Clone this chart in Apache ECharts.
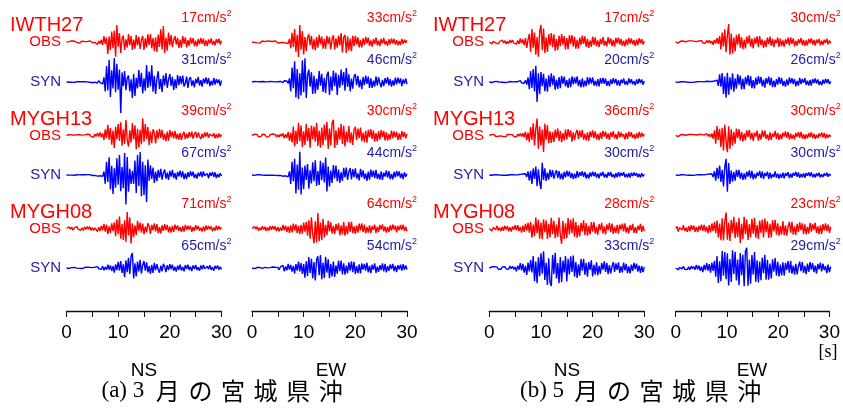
<!DOCTYPE html>
<html>
<head>
<meta charset="utf-8">
<script src="https://cdn.jsdelivr.net/npm/echarts@6/dist/echarts.min.js"></script>
<style>
html,body{margin:0;padding:0;background:#fff}
#chart{width:843px;height:408px}
</style>
</head>
<body>
<div id="chart"></div>
<script>
// Sample interval of every record [s]
const dt = 0.25;
const stations = ['IWTH27', 'MYGH13', 'MYGH08'];
const components = ['NS', 'EW'];
const kinds = ['OBS', 'SYN'];
const eventTags = ['(a) 3', '(b) 5'];
const eventName = '月の宮城県沖';
const timeTicks = [0, 10, 20, 30];
const timeUnit = '[s]';

// Acceleration records [cm/s^2], 0.25 s step, 0-30 s
// ---- (a) March event, NS ----
const a_NS_IWTH27_OBS = [0,-0.5,0.4,-1.0, 1.2,-0.3,0.8,-0.6, -0.4,1.0,-1.2,0.3, 0.9,-0.7,0.5,-1.1, 0.4,-0.9,1.2,-0.2, -0.6,1.1,-0.4,0.8,
 -2.5,1.0,-1.8,2.2, -3.0,6.0,-1.8,4.4, -12,5.5,-8.0,10.4, -6.2,11.5,-14.6,17, -4.8,9.0,-11,3.5, 6.4,-8.0,2.6,-5.5,
 7.8,-3.1,5.9,-8.0, 2.4,-6.6,7.0,-3.3, 5.2,-7.0,1.9,6.1, -8.0,3.7,-5.4,7.6, -2.8,8.0,-6.3,4.0, -9.1,4.6,-10,7.5,
 -5.0,12.8,-7.4,16, -11,4.2,-8.6,9.5, -3.1,7.0,-5.2,2.0, 5.8,-2.5,4.1,-6.0, 2.2,-5.6,6.0,-1.9, 4.7,-5.5,2.0,-3.9,
 4.5,-1.6,3.8,-4.2, 1.4,-4.5,3.0,-2.2, 4.0,-1.8,3.3,-3.9, 1.6,-4.0,2.5,-1.2, 3.5,-2.7,1.1,-3.3, 2.9,-1.0,3.4,-2.4, 1.2];
const a_NS_IWTH27_SYN = [0,0.3,-0.2,0.4, -0.3,0.1,-0.4,0.3, 0.2,-0.4,0.3,-0.1, 0.4,-0.2,0.3,-0.4, 0.1,0.4,-0.3,0.2, -0.7,0.4,-0.2,0.6,
 -1.0,1.5,-0.6,1.2, -2.0,4.6,-9.5,16, -8.4,22,-15,11.6, -6.5,24,-10.3,18.2, -7.8,12.4,-31,9.6, -4.3,11,-8.2,3.9,
 6.5,-9.4,2.8,-16, 7.9,-14,4.1,-6.3, 12,-5.0,9.1,-11.4, 3.6,-8.8,17,-6.0, 10.5,-4.4,16.6,-9.7, 6.2,-12,3.3,10.8,
 -7.1,2.9,-10,6.6, -3.5,9.0,-5.8,2.4, 7.8,-4.0,5.1,-8.0, 2.7,-6.3,7.0,-3.2, 5.9,-2.1,6.5,-4.6, -1.5,5.5,-6.0,2.8,
 4.9,-3.8,1.7,-5.5, 3.2,-1.4,5.0,-3.6, 1.9,-4.7,3.5,-1.3, 4.5,-2.2,3.8,-4.1, 1.0,-3.3,4.0,-2.5, 3.1,-1.2,2.6,-3.9, 1.5];
const a_NS_MYGH13_OBS = [0,-1.2,2.0,-0.6, 1.5,-2.2,0.7,-1.4, 2.1,-0.5,1.6,-1.9, 0.8,-2.2,1.3,-0.9, 2.8,-1.1,2.3,-2.6, 1.2,-4.0,3.1,-1.8,
 5.6,-2.4,7.0,-4.3, 5.0,-10,14,-6.2, 24,-9.5,17,-21, 11,-28,19.5,-8.6, 26,-12.5,30,-23, 14,-19,35,-10,
 -25,11.5,-16,28, -9.2,23,-31,15, -27,12.8,-20,39, -14,26,-8.5,19, -22,9.5,-17.6,14.2, 6.3,-18,11.8,-7.4,
 15,-5.6,12.6,-9.9, 4.2,-13,8.7,-11.5, 12,-3.8,9.5,-6.8, 10.5,-7.7,3.9,-9.3, 6.1,-10,2.8,8.4, -9.0,4.4,-6.5,7.8,
 -3.2,8.5,-7.2,2.9, 8.0,-5.1,6.7,-2.4, -7.5,3.5,-5.8,6.9, -2.6,7.0,-4.9,3.6, 6.5,-1.9,5.2,-6.1, 2.8,-6.0,4.6,-3.3, 2.0];
const a_NS_MYGH13_SYN = [0,0.5,-0.3,0.6, -0.2,0.4,-0.6,0.3, 0.6,-0.5,0.2,-0.6, 0.4,-0.7,0.5,-0.2, 0.8,-0.4,0.9,-0.6, -1.2,0.5,-0.9,1.1,
 -2.5,1.4,-1.8,2.4, -3.0,8.0,-20,30, -16,40,-33,21, -43,15,-29,38, -22,45,-37,18, -30,50,-67,41,
 -38,14,-20,9.5, -20,33,-41,45, -25,52,-48,30, -45,22,-61,35, -13,22,-9.0,17, -18,7.5,-14,11.6,
 -6.0,14,-10.5,4.8, 12.5,-8.3,5.2,-11, 9.4,-3.6,11.5,-7.0, 4.1,-10.5,6.9,-2.9, 10,-5.5,8.2,-9.6, 3.7,-9.0,6.1,-4.2,
 8.5,-2.6,7.4,-6.8, 2.1,-8.0,5.3,-3.0, 7.7,-4.5,8.0,-1.8, -6.2,3.4,-7.5,5.6, -2.0,7.0,-4.4,6.1, -7.0,2.5,-5.3,4.0, -2.2];
const a_NS_MYGH08_OBS = [0,-5.0,7.2,-3.1, 6.4,-7.5,2.6,-6.0, 8.0,-2.9,5.7,-7.8, 3.5,-8.2,6.9,-4.0, 8.7,-3.3,7.9,-9.0, 4.4,-8.6,2.8,9.1,
 -13,6.0,-10.5,12.4, -8.0,20,-14,17, -24,9.5,-19,22, -11,27,-33,40, -25,52,-44,19, -50,36,-58,71,
 -30,47,-65,22, -38,14,-29,33, -9.6,26,-18,21, -25,8.2,-17,23, 10,-23,16,-7.5, 22,-12,19,-20,
 6.3,-21,14,-9.8, 19,-6.5,15.5,-17, 8.4,-18,11,-14.6, 17,-4.9,13,-10, 5.5,-16,9.7,-13.2, 15.5,-7.0,12,-3.9,
 11.5,-15,6.1,-10.4, 14,-4.2,11.2,-9.5, 3.6,-13.5,8.8,-11, 13,-5.3,10.6,-2.7, 9.1,-12.5,4.0,-8.9, 12,-6.6,9.8,-3.2, 5.0];
const a_NS_MYGH08_SYN = [0,1.2,-2.0,0.6, 1.8,-0.9,2.5,-1.4, -0.5,2.2,-1.6,1.0, -2.4,0.8,1.9,-1.1, 3.5,-1.6,2.7,-3.0, 1.8,-5.5,3.9,-2.2,
 6.0,-3.1,4.8,-5.7, 8.2,-10,4.5,-7.9, 14,-6.3,11,-12.8, 8.0,-20,15.5,-9.3, 27,-12,30,-21, 16,-40,33,-18,
 44,-26,52,65, -45,20,-36,28, -15,35,-24,12, 30,-11,25,-19, 8.5,-26,14,-21, 22,-9.0,17,-6.4,
 -20,10.5,-15,18, 6.0,-18,12.5,-8.8, 17,-4.5,14,-12, 5.1,-16,10.2,-7.6, 15,-11,4.3,-14.4, 12.6,-3.8,14,-9.0,
 6.2,-13.5,11,-4.5, 13,-8.5,3.2,-12.4, 10.8,-6.0,13,-2.9, -11.5,7.2,-4.8,12.5, -8.0,3.6,-12,9.3, -2.5,11.2,-7.7,5.0, -6.5];
// ---- (a) March event, EW ----
const a_EW_IWTH27_OBS = [0,1.4,-0.8,2.0, -1.6,0.5,-2.1,1.1, 1.9,-1.3,0.6,-1.8, 2.1,-0.7,1.5,-2.0, 0.9,-1.7,2.2,-0.5, -2.0,1.2,-1.4,2.3,
 -0.8,2.4,-2.0,1.3, -3.0,6.0,-12,18, -9.5,25,-19,14, -29,33,-15,21, -24,10,-17.5,8.2, 15,-6.6,12,-14,
 5.3,-16,9.4,-11, 14,-4.6,10.5,-12.7, 6.0,-13.5,12,-3.8, 9.8,-14,5.2,13, -15,7.1,-11,12.4, -6.5,17.5,-20,9.0,
 14,-21,11.2,-16.5, 6.8,-18,12,-8.1, 12,-4.9,9.2,-10.6, 3.5,-10.5,7.1,-5.8, 10,-2.7,8.4,-7.6, 3.1,-9.0,5.6,-4.1,
 8.5,-6.2,2.4,-7.8, 6.0,-3.0,8.0,-5.1, 1.9,-7.5,5.5,-4.4, 7.0,-2.6,6.2,-5.0, 3.3,-6.5,1.8,-5.4, 6.0,-3.7,4.6,-2.0, 3.2];
const a_EW_IWTH27_SYN = [0,-0.6,0.9,-0.3, 0.7,-1.0,0.4,-0.8, 1.0,-0.2,0.6,-0.9, 0.3,-0.7,1.0,-0.5, 0.8,-0.4,0.2,-1.0, 0.6,-0.8,1.1,-0.4,
 -1.4,2.5,-1.0,1.9, -3.0,7.0,-18,28, -12,40,-30,25, -33,17,-26,42, -20,46,-31,13, 24,-9.0,19,-23,
 12,-22,6.4,-15, 21,-7.2,16,-19, 8.1,-21,13,20, -25,10.5,-17,22, -8.0,18,-25,14, -11,24,-6.3,19,
 -17,27,-9.5,15, -18,6.4,-13,11, 15.5,-5.9,12,-10.3, 4.8,-14,9.4,-6.0, 12.5,-3.5,10.4,-11.6, 7.2,-11.5,2.8,-9.1,
 11,-6.5,9.2,-2.6, -10,4.1,-8.0,7.4, -3.0,9.5,-6.6,5.5, -9.0,2.9,-7.0,8.4, -4.5,8.5,-2.4,6.8, -8.0,5.1,-3.3,7.1, -4.0];
const a_EW_MYGH13_OBS = [0,-1.5,2.4,-0.6, 1.9,-2.6,0.9,-1.7, 2.5,-1.0,1.8,-2.3, 0.7,-2.7,1.6,-1.2, 2.9,-0.8,2.2,-2.8, 1.4,-3.0,2.6,-1.5,
 4.0,-5.5,2.3,-4.4, 7.0,-10,5.0,-13, 17,-21,9.3,-16, 24,-11,19,-22, 8.0,-18,22,-10.5, 14,-23,19,-6.8,
 17,-12,24,-20, 9.6,-23,15,-18.5, 21,-8.7,26,-25, 13,-19,24,30, -23.5,10,-18,15, -8.1,22,-16,19,
 -21,7.6,-12.5,18, -14,5.5,-18,11, 16.5,-8.8,13,-4.9, 15,-10.6,5.4,-12.8, 9.1,-13.5,11,-3.6, 12.3,-6.4,9.7,-11.5,
 4.5,-11,8.2,-7.7, 10.5,-3.1,8.9,-9.4, 5.8,-9.7,2.6,-7.6, 9.3,-5.2,8.0,-3.4, 6.8,-8.8,3.9,-7.9, 8.4,-2.8,6.6,-5.3, 3.0];
const a_EW_MYGH13_SYN = [0,0.4,-0.7,0.2, 0.6,-0.3,0.5,-0.6, -0.2,0.7,-0.5,0.3, -0.6,0.4,-0.2,0.8, -0.4,0.9,-0.7,0.5, -1.0,0.3,-0.8,1.1,
 -2.4,1.0,-1.5,2.2, -3.5,7.0,-17,25, -12,31,-35,20, -28,44,-37,14, -27,18,-9.5,21, -26,9.0,-16,24,
 -12,28,-21,7.5, -19,27,-10,23, -14,33,-31.5,16, -22,8.6,-15,19, -6.4,18,-12,10.5, -15,5.3,-11,13.8,
 -4.4,14,-9.2,6.0, 13,-8.5,11,-3.9, 12.5,-6.8,3.2,-10.4, 11.5,-4.2,8.9,-7.7, 2.8,-11,6.5,-9.0, 10.4,-3.5,8.3,-6.1,
 9.8,-7.2,2.5,-8.7, 6.9,-9.3,4.4,-2.9, 8.8,-5.0,7.4,-8.1, 2.2,-8.4,6.0,-4.6, 8.0,-2.5,6.7,-5.9, 3.1,-7.6,5.2,-3.4, 2.5];
const a_EW_MYGH08_OBS = [0,-6.0,8.4,-3.0, 7.9,-8.8,2.7,-6.4, 9.0,-4.1,7.2,-9.5, 3.6,-8.7,9.6,-5.2, 10.4,-3.9,8.8,-10.8, 6.0,-12,4.5,-9.1,
 15,-7.3,12.2,-14.5, 8.6,-18.5,13,-16, 20,-9.0,17,-19.4, 11.5,-23.5,15,-21, 25,-13,27,-30, 34,-43,47,-22,
 -62,30,-58,64, -53,25,-49,40, -37,15,-28,33, -12,26,-21,10.5, -24,18,-8.3,22, -29,13,-25,27,
 -30,10,-24,28, -14,28,-19.5,9.3, -22,12,-17,20, -7.5,21,-15,16.5, -20,6.4,-17.5,13, -19,9.8,-5.6,16,
 -18.5,7.4,-14,15, -4.8,17.5,-12,8.9, -17,6.1,-15,13.4, -9.0,16.5,-4.2,12, -16,11,-7.0,14.5, -5.5,15.5,-10.8,7.3, -12];
const a_EW_MYGH08_SYN = [0,1.2,-2.5,0.7, 2.0,-1.1,2.4,-0.4, -1.8,0.9,2.5,-1.5, 0.6,-2.3,1.7,-2.5, 4.0,-1.6,3.1,-3.8, 2.5,-7.5,5.0,-3.2,
 11,-14,6.3,-9.8, 17.6,-7.0,13,-15.5, 9.0,-23,16,-11, 27,-14,21,-25, 16,-40,28,-33, 46,-21,38,-43,
 25,-52,35,49, -30,54,-47,22, -41,47,-19,36, -42,16,-35,27, -37,11,-24,31, -13,31,-27,19,
 -28,9.5,-22,24, -11,28,-17,26, -25,8.0,-21,15, -23,19,-6.4,17, -11,22,-18,9.2, -21,14,-7.0,19,
 -20,5.5,-16,12, -8.6,19,-14,17, -18,7.3,-11.5,15, -4.6,17,-13,9.0, -16.6,12,-5.2,14, -10.5,16,-7.6,11, -6.0];
// ---- (b) May event, NS ----
const b_NS_IWTH27_OBS = [0,1.4,-2.0,0.6, 1.7,-0.8,1.1,-1.9, 0.5,-1.5,2.0,-0.9, 1.3,-2.1,0.7,-1.6, 2.0,-0.6,1.8,-1.2, 0.8,-2.2,1.5,-1.9,
 3.5,-1.4,2.6,-3.2, 4.0,-6.0,2.5,8.0, -10,13,-5.6,9.4, -12.6,5.0,-14.6,10.3, 17,-8.2,13.5,-11, 4.4,-10,7.8,-3.5,
 9.0,-5.2,7.6,-8.8, 2.9,-8.0,6.3,-4.1, 8.0,-2.6,5.9,-7.4, 3.8,-7.3,6.8,-1.9, 7.0,-4.6,5.1,-6.6, 2.2,-6.6,4.5,-3.0,
 6.4,-1.8,5.7,-5.0, 3.1,-6.0,1.5,-4.7, 5.4,-2.8,4.6,-4.1, 1.6,-5.0,3.2,-2.3, 5.0,-3.7,1.2,-4.4, 4.8,-1.9,3.6,-4.2,
 2.0,-4.6,4.1,-1.4, 4.4,-2.5,3.0,-3.9, 1.3,-4.3,2.7,-3.2, 4.2,-1.5,3.5,-2.4, 1.8,-4.0,2.6,-3.1, 3.9,-1.2,3.0,-2.6, 1.0];
const b_NS_IWTH27_SYN = [0,0.3,-0.5,0.2, 0.4,-0.2,0.5,-0.4, -0.1,0.4,-0.3,0.5, -0.5,0.2,-0.4,0.3, 0.5,-0.3,0.1,-0.5, 0.4,-0.5,0.3,-0.2,
 1.4,-0.7,1.0,-1.2, 1.8,-2.6,4.5,-7.2, 11,-6.0,13,-9.5, 16.2,-20,8.7,-12, 10,-4.3,8.1,-9.2, 3.5,-9.7,6.6,-5.0,
 8.7,-3.1,6.4,-7.8, 2.5,-7.0,4.9,-6.1, 6.2,-2.0,5.4,-4.3, 1.8,-6.0,3.7,-5.2, 5.6,-2.4,4.6,-1.5, 5.5,-4.0,2.1,-5.3,
 3.6,-5.1,1.4,-4.2, 5.0,-2.6,4.3,-1.7, 4.7,-3.5,1.2,-4.0, 2.9,-4.5,3.8,-1.6, 4.2,-1.9,3.5,-3.9, 1.1,-4.2,2.7,-2.0,
 3.9,-1.4,3.1,-3.3, 1.7,-3.8,2.4,-1.2, 3.6,-2.6,1.0,-3.1, 3.5,-1.3,2.8,-2.2, 0.9,-3.3,2.5,-1.8, 3.2,-1.1,2.6,-2.7, 1.0];
const b_NS_MYGH13_OBS = [0,-1.6,2.4,-0.8, 1.9,-2.5,0.6,-1.7, 2.2,-0.9,1.5,-2.4, 1.0,-2.3,2.5,-1.4, 2.1,-0.7,1.8,-2.5, 1.3,-2.6,3.0,-1.5,
 4.4,-2.2,5.0,-3.8, 8.0,-10,6.0,-14, 18,-9.5,26,-21, 14,36,-28,19, -22,12.5,-35,25, -9.0,22,-16.5,8.7,
 -16,7.4,-13.8,12, -5.2,15,-11.3,9.4, -14,4.9,-10.5,12.6, -8.4,13.6,-3.7,11, -13,6.6,-9.8,5.0, 12.3,-7.5,10.2,-4.1,
 11.8,-9.0,3.6,-10.5, 6.9,-11.2,8.5,-2.8, 10.7,-5.6,9.0,-8.2, 3.2,-10,6.8,-7.4, 9.8,-2.5,8.1,-6.5, 4.6,-9.3,7.2,-3.0,
 9.0,-6.0,2.7,-8.4, 8.7,-4.2,6.5,-2.3, 3.0,-8.4,5.6,-7.1, 8.0,-2.4,6.9,-4.8, 2.0,-7.8,5.0,-6.3, 7.5,-3.6,5.8,-2.2, 3.0];
const b_NS_MYGH13_SYN = [0,0.4,-0.6,0.2, 0.5,-0.3,0.6,-0.5, -0.2,0.5,-0.4,0.6, -0.5,0.3,-0.6,0.2, 0.6,-0.4,0.5,-0.6, 0.3,-0.6,0.5,-0.3,
 1.3,-0.8,2.0,-1.4, 2.6,-4.1,7.5,-11.8, 9.0,-19,14,-8.5, 18,-24,12,-16, -30,26,-10.4,14.2, -12.6,5.0,-9.8,11.3,
 -4.4,10.4,-7.6,3.5, 10.2,-6.1,8.5,-9.0, 3.2,-9.6,6.8,-4.9, 9.1,-2.8,7.6,-6.3, 4.0,-8.7,2.6,-7.1, 8.3,-5.2,6.0,-1.9,
 7.9,-4.0,6.6,-7.4, 2.1,-7.7,5.5,-3.3, 7.3,-2.5,6.2,-5.4, 3.0,-7.0,4.6,-1.8, 6.8,-4.9,2.3,-6.0, 5.7,-2.0,6.4,-4.2,
 1.6,-6.3,4.0,-5.0, 6.0,-3.1,4.8,-1.4, 5.9,-4.5,2.2,-5.3, 3.6,-5.6,4.9,-2.0, 5.5,-1.6,4.3,-4.6, 2.4,-5.2,3.8,-3.0, 1.5];
const b_NS_MYGH08_OBS = [0,3.0,-4.6,1.8, 4.4,-2.1,4.9,-3.7, 1.5,-4.8,3.3,-4.1, 5.0,-1.9,4.2,-5.1, 2.6,-5.5,3.8,-2.0, 5.9,-3.4,6.0,-4.7,
 2.9,-7.5,5.2,-6.0, 8.3,-4.1,10.5,-7.7, 12,-17,7.0,-14, 20,-9.0,16,-18.5, 11,-19.5,17,-6.6, 15,-19,8.5,-16.5,
 19.8,-10.4,14,-17.6, 7.0,-15.5,20,-12, -28,14,-19.3,9.5, -17.8,19,-11,16, -8.4,18.5,-15,12, -17,6.2,-14.6,10.5,
 -5.5,15,-12,9.8, -13,4.4,-10.8,11.6, -6.0,12,-9.5,3.3, -11.5,8.0,-2.8,10.4, -9.2,4.1,-11,7.5, -2.9,10.5,-6.6,9.0,
 -10,3.4,-8.1,6.9, -9.5,7.2,-2.2,8.8, -5.4,9.3,-7.7,3.0, -9.0,6.0,-3.5,8.4, -7.9,2.6,-8.7,5.3, -3.0,8.4,-6.1,4.7, -5.0];
const b_NS_MYGH08_SYN = [0,-1.5,2.2,-0.7, 2.5,-1.1,1.6,-2.3, 0.6,-2.4,1.9,-1.0, 2.5,-1.7,0.8,-2.2, 3.8,-1.3,3.1,-2.7, 1.9,-6.3,4.2,-3.0,
 9.0,-4.4,7.6,-8.5, 3.9,-12.7,10,-6.2, 14.5,-8.0,22,-24, 12,-28,20,-15, 27,-10.5,30.5,-22, 9.5,-31,18,-26,
 -33,24,-11,28, -19,9.0,-28,20, -26,13.5,-8.2,22, -24.5,17,-12,21.5, -7.4,23,-16,11, -18,6.5,-14,16.6,
 -4.9,17,-12.5,9.6, -16,10.8,-3.5,14.2, -15.4,6.0,-12,10.3, -13,4.0,-10.6,8.9, -2.8,12,-7.4,9.5, -11.3,5.5,-9.8,2.6,
 11,-7.2,8.5,-3.4, 10.4,-9.0,2.9,-8.1, 10,-4.3,7.7,-9.4, 3.1,-9.7,6.0,-5.2, 9.4,-2.0,8.1,-6.7, 4.4,-9.0,3.3,-7.5, 2.0];
// ---- (b) May event, EW ----
const b_EW_IWTH27_OBS = [0,1.0,-1.8,0.6, 1.7,-0.9,1.3,-2.0, 0.4,-1.6,1.9,-1.1, 1.8,-0.5,1.4,-1.9, 0.7,-2.1,1.6,-0.9, 2.2,-1.3,0.8,-2.0,
 2.6,-1.0,2.8,-2.2, 1.5,-4.6,3.3,-2.4, 6.3,-3.2,9.8,-12.4, 15.7,-8.0,21,-16.9, 11,30,-21,14, -19,7.6,-15.6,12,
 -4.5,13.5,-9.4,8.0, -12,3.8,-10.7,9.1, -2.9,11,-7.6,5.5, -10.6,6.9,-3.1,9.5, -8.2,10,-5.0,4.4, -9.6,2.7,-8.1,7.3,
 -3.6,9.0,-6.4,5.2, -8.7,3.9,-2.0,7.5, -8.3,5.6,-6.8,2.5, -7.9,4.3,-2.9,7.2, -5.5,7.6,-3.1,6.0, -7.2,1.9,-6.1,4.8,
 -2.4,6.9,-5.0,3.7, -6.6,2.6,-5.8,5.1, -1.7,6.2,-4.3,3.4, -6.0,4.1,-1.9,5.2, -5.7,2.0,-4.6,3.8, -1.5,5.5,-3.9,2.6, -2.0];
const b_EW_IWTH27_SYN = [0,0.4,-0.6,0.2, 0.5,-0.2,0.6,-0.4, -0.1,0.5,-0.5,0.3, -0.6,0.2,-0.4,0.6, 0.3,-0.5,0.6,-0.2, 0.6,-0.4,0.2,-0.6,
 1.2,-0.5,0.9,-1.1, 0.8,-2.2,1.6,-1.3, 3.0,-6.4,12.6,-8.0, 14.8,-20,9.0,-26, 15.4,-21,8.0,-13, 14.6,-16,6.2,-11,
 13,-4.4,10.5,-12.4, 5.1,-12,8.4,-3.9, 11.4,-6.6,9.7,-10.1, 3.2,-10.8,7.5,-5.0, 10,-2.9,8.4,-7.1, 4.0,-9.4,6.6,-2.5,
 9.0,-5.8,7.1,-8.5, 2.2,-8.7,5.0,-4.2, 8.3,-3.0,6.9,-6.4, 1.9,-7.9,4.4,-5.8, 7.5,-2.4,6.3,-3.6, 5.0,-7.1,1.7,-6.0,
 6.8,-3.3,5.2,-1.5, 6.5,-4.8,2.0,-5.9, 3.5,-6.2,4.9,-1.8, 5.9,-2.6,4.2,-5.0, 1.4,-5.6,3.7,-2.9, 5.3,-1.7,4.5,-3.6, 1.0];
const b_EW_MYGH13_OBS = [0,1.2,-2.0,0.7, 1.8,-0.9,1.4,-2.2, 0.5,-1.6,2.1,-1.0, 1.9,-0.6,1.5,-2.0, 0.9,-2.2,1.7,-0.7, 2.1,-1.3,0.6,-2.2,
 3.2,-1.4,2.5,-2.9, 3.8,-5.6,9.4,-14.7, 17,-8.0,12,-20.5, 14,-26.8,19.5,-9.6, -30,16.8,-24,11, -18,6.5,-14.7,12.5,
 -4.8,11.6,-9.0,6.4, -10.5,3.7,-8.6,9.4, -2.5,10,-7.1,4.8, -9.7,5.2,-2.0,8.7, -9.2,3.4,-7.6,9.0, -3.1,8.9,-6.0,2.0,
 -8.6,5.5,-8.0,3.7, -2.3,8.2,-6.2,4.9, -7.9,2.6,-6.7,5.1, -1.8,7.5,-4.3,6.0, -7.2,3.1,-5.8,1.6, -6.9,4.6,-2.4,6.1,
 -4.0,6.6,-5.3,2.2, -6.4,1.9,-5.1,4.4, -2.8,6.1,-4.7,3.3, -5.9,1.6,-4.9,3.8, -2.0,5.6,-3.4,4.5, -5.4,2.4,-4.1,1.3, -2.0];
const b_EW_MYGH13_SYN = [0,0.4,-0.6,0.2, 0.5,-0.3,0.6,-0.4, -0.2,0.5,-0.4,0.6, -0.5,0.2,-0.6,0.4, 0.3,-0.6,0.5,-0.2, 0.6,-0.4,0.3,-0.6,
 1.2,-0.6,1.7,-1.1, 2.3,-3.6,6.8,-10.4, 13,-6.5,17,-12.6, 9.5,-20.4,14,29, -30,21.5,-16.3,8.0, -11.8,5.1,-10.3,9.1,
 -3.4,9.3,-6.7,4.2, -8.9,2.7,-7.8,6.0, -3.0,8.3,-5.5,7.6, -7.9,2.4,-6.2,4.4, -1.9,7.5,-5.0,6.6, -7.2,3.8,-2.0,6.0,
 -6.8,4.4,-5.8,1.6, -3.7,6.5,-4.9,2.5, -6.2,1.8,-5.1,4.3, -5.9,3.5,-1.5,5.2, -5.6,2.2,-4.6,3.8, -1.4,5.4,-3.3,4.7,
 -5.2,1.9,-4.1,3.0, -5.0,3.6,-1.2,4.6, -2.5,4.8,-3.9,1.7, -4.6,3.1,-2.2,4.2, -4.4,1.5,-3.7,2.8, -1.6,4.3,-3.2,2.1, -1.0];
const b_EW_MYGH08_OBS = [0,3.0,-4.5,1.6, 4.2,-2.0,4.6,-3.5, 1.3,-4.7,3.2,-4.0, 4.8,-1.7,4.1,-4.9, 2.4,-5.0,3.6,-2.1, 5.6,-3.3,5.2,-4.4,
 2.7,-6.8,4.9,-5.5, 7.2,-3.6,9.6,-6.8, 11.4,-12.8,7.0,-16.7, 14.6,-17,9.5,23, -16.2,8.4,-17.8,12, -6.3,16.8,-14,9.0,
 -12.5,15.4,-21,6.8, -15.5,16.9,-8.0,13, -16.4,6.2,-12.7,14, -7.4,15.2,-13.1,4.9, -15,11.5,-6.0,12.8, -12.9,14.1,-5.1,10.3,
 -13.5,6.8,-12.8,11.9, -4.2,12.4,-9.0,7.5, -10.4,3.6,-8.9,10.8, -9.6,4.5,-10.1,2.7, 9.5,-6.1,9.7,-8.8, 3.0,-9.3,6.6,-5.0,
 8.9,-2.5,7.4,-8.2, 5.8,-8.6,2.2,-6.9, 8.2,-4.4,6.7,-2.0, 8.0,-6.3,3.1,-7.9, 4.5,-7.7,6.2,-2.6, 7.5,-3.9,5.6,-6.4, 2.5];
const b_EW_MYGH08_SYN = [0,1.5,-2.6,0.8, 2.3,-1.2,2.6,-1.9, 0.7,-2.2,1.6,-2.5, 2.6,-0.9,2.0,-2.4, 4.3,-1.8,3.5,-4.0, 2.1,-6.0,4.6,-3.1,
 7.0,-3.9,5.5,-6.6, 7.8,-4.0,10.2,-12.5, 17.3,-21.6,9.5,-19, 24.5,-11,22.8,-16, 21.2,-24.9,13,-20, 25.3,-8.6,23.1,-18,
 12,-24.8,21.4,-10.5, 19,-26,24,29, -25.5,12,-22.4,18.5, -9.4,22.8,-19.5,11, -20.7,9.3,-17.6,15, -7.5,18.9,-16.8,11.8,
 -16.6,6.2,-14.9,12.4, -5.1,14.3,-11,9.0, -12.2,4.8,-10.6,8.3, -11,7.5,-2.9,10.1, -6.8,10.2,-8.0,3.6, -9.6,6.1,-9.1,2.2,
 9.2,-4.5,8.4,-7.0, 3.0,-8.7,6.3,-5.5, 8.4,-2.4,7.1,-6.0, 3.3,-7.9,5.9,-1.8, 7.6,-4.7,6.4,-3.0, 2.7,-7.2,4.8,-5.9, 2.0];

// ---- layout (pixels) ----
const panelLeft = [66.5, 252, 489.3, 675.7];   // a-NS, a-EW, b-NS, b-EW
const panelWidth = 155;
const rowBase = [[42, 82], [135.5, 175], [228.5, 268]]; // per station: OBS, SYN baseline
const halfHeight = 30;
// display half-range [cm/s^2] of each station row in each panel (OBS and SYN share it)
const gainRange = [[30, 68, 130], [58, 57, 125], [30, 64, 55], [50, 54, 43]];
const axisLineY = 311;

const RED = '#ff0000', BLUE = '#0000ff', NAVY = '#1c1ca6';
const SANS = '"Liberation Sans", Arial, Helvetica, sans-serif';
const SERIF = '"Liberation Serif", "Times New Roman", serif';
const CJK = '"Noto Sans CJK JP", sans-serif';

// record table: [panel][station][OBS, SYN]
const records = [
  [[a_NS_IWTH27_OBS, a_NS_IWTH27_SYN], [a_NS_MYGH13_OBS, a_NS_MYGH13_SYN], [a_NS_MYGH08_OBS, a_NS_MYGH08_SYN]],
  [[a_EW_IWTH27_OBS, a_EW_IWTH27_SYN], [a_EW_MYGH13_OBS, a_EW_MYGH13_SYN], [a_EW_MYGH08_OBS, a_EW_MYGH08_SYN]],
  [[b_NS_IWTH27_OBS, b_NS_IWTH27_SYN], [b_NS_MYGH13_OBS, b_NS_MYGH13_SYN], [b_NS_MYGH08_OBS, b_NS_MYGH08_SYN]],
  [[b_EW_IWTH27_OBS, b_EW_IWTH27_SYN], [b_EW_MYGH13_OBS, b_EW_MYGH13_SYN], [b_EW_MYGH08_OBS, b_EW_MYGH08_SYN]]
];

const grid = [], xAxis = [], yAxis = [], series = [], graphic = [];
const tMax = timeTicks[timeTicks.length - 1];

records.forEach((panel, p) => {
  panel.forEach((pair, s) => {
    pair.forEach((vals, k) => {
      const idx = grid.length;
      const base = rowBase[s][k];
      const R = gainRange[p][s];
      grid.push({ left: panelLeft[p], width: panelWidth, top: base - halfHeight, height: 2 * halfHeight });
      xAxis.push({ type: 'value', gridIndex: idx, min: 0, max: tMax, show: false });
      yAxis.push({ type: 'value', gridIndex: idx, min: -R, max: R, show: false });
      series.push({
        type: 'line', xAxisIndex: idx, yAxisIndex: idx,
        data: vals.map((v, i) => [i * dt, v]),
        symbol: 'none', clip: false, silent: true,
        lineStyle: { color: k === 0 ? RED : BLUE, width: 1.4 }
      });
      // peak amplitude label
      const peak = Math.max(...vals.map(Math.abs));
      graphic.push({
        type: 'text', x: panelLeft[p] + panelWidth + 10, y: base - (k === 0 ? 24 : 22),
        style: {
          text: '{v|' + Math.round(peak) + 'cm/s}{e|2}',
          align: 'right', verticalAlign: 'middle',
          rich: {
            v: { fontSize: 14, fontFamily: SANS, fill: k === 0 ? RED : NAVY },
            e: { fontSize: 9, fontFamily: SANS, fill: k === 0 ? RED : NAVY, padding: [0, 0, 9, 0] }
          }
        }
      });
    });
  });
});

// time axes under each panel
panelLeft.forEach((left) => {
  const idx = grid.length;
  grid.push({ left: left, width: panelWidth, top: axisLineY - 20, height: 20 });
  xAxis.push({
    type: 'value', gridIndex: idx, min: 0, max: tMax, interval: 5, position: 'bottom',
    axisLine: { show: true, lineStyle: { color: '#111', width: 1.3 } },
    axisTick: { show: true, length: 6, lineStyle: { color: '#111', width: 1 } },
    splitLine: { show: false },
    axisLabel: {
      show: true, margin: 12, fontSize: 19, color: '#000', fontFamily: SANS,
      showMinLabel: true, showMaxLabel: true,
      formatter: (v) => (timeTicks.indexOf(v) >= 0 ? String(v) : '')
    }
  });
  yAxis.push({ type: 'value', gridIndex: idx, show: false });
});

// station names and OBS / SYN tags
const groupLeft = [10, 433];
const tagRight = [61, 484];
const stationY = [25.8, 119, 212.5];
[0, 1].forEach((g) => {
  stations.forEach((name, s) => {
    graphic.push({ type: 'text', x: groupLeft[g], y: stationY[s],
      style: { text: name, fontSize: 20, fontFamily: SANS, fill: RED, align: 'left', verticalAlign: 'middle' } });
    kinds.forEach((kind, k) => {
      graphic.push({ type: 'text', x: tagRight[g], y: rowBase[s][k],
        style: { text: kind, fontSize: 15, fontFamily: SANS, fill: k === 0 ? RED : NAVY, align: 'right', verticalAlign: 'middle' } });
    });
  });
});

// component names
const compX = [144, 331, 567, 752];
compX.forEach((x, p) => {
  graphic.push({ type: 'text', x: x, y: 371,
    style: { text: components[p % 2], fontSize: 19, fontFamily: SANS, fill: '#000', align: 'center', verticalAlign: 'middle' } });
});

// event captions
const captionLeft = [101.5, 520];
eventTags.forEach((tag, g) => {
  const chars = Array.from(eventName).map((c) => '{c|' + c + '}').join('');
  graphic.push({ type: 'text', x: captionLeft[g], y: 391,
    style: {
      text: '{p|' + tag + '}' + chars, align: 'left', verticalAlign: 'middle',
      rich: {
        p: { fontSize: 23, fontFamily: SERIF, fill: '#000', width: 50 },
        c: { fontSize: 24, fontFamily: CJK, fill: '#000', width: 32.6, align: 'center' }
      }
    }
  });
});

graphic.push({ type: 'text', x: 828, y: 352,
  style: { text: timeUnit, fontSize: 18, fontFamily: SERIF, fill: '#000', align: 'center', verticalAlign: 'middle' } });

const chart = echarts.init(document.getElementById('chart'), null, { renderer: 'canvas' });
chart.setOption({
  animation: false,
  backgroundColor: '#fff',
  grid: grid, xAxis: xAxis, yAxis: yAxis, series: series, graphic: graphic
});
</script>
</body>
</html>
